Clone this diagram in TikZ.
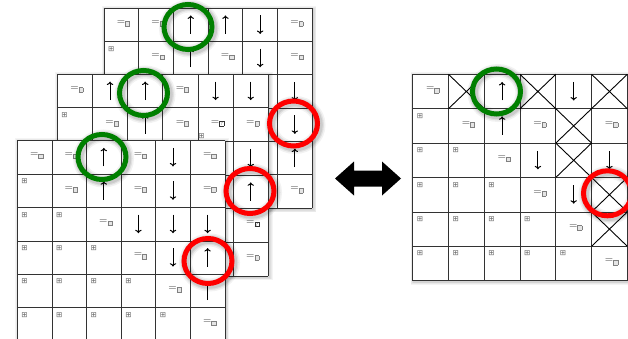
\documentclass[tikz,border=0pt]{standalone}
\usepackage{fontspec}
\newfontfamily\dejavu{DejaVu Sans}
\usetikzlibrary{arrows.meta}

\newcommand{\gbx}{\raisebox{-1.2pt}{\setlength{\fboxsep}{0.5pt}\setlength{\fboxrule}{0.5pt}\fcolorbox{gray}{gray!20}{\rule{0pt}{3.2pt}\hspace{2.8pt}}}}
\newcommand{\qbx}{\raisebox{-1.2pt}{\setlength{\fboxsep}{0.3pt}\setlength{\fboxrule}{0.5pt}\fcolorbox{black!80}{white}{\fontsize{5.5}{5.5}\selectfont ?}}}
\newcommand{\icn}{{\dejavu\fontsize{7.5}{7.5}\selectfont\color{gray!80!black}⊞}}

\newcommand\cce[1]{\node[txt] (#1-t) at ([xshift=2pt,yshift=1.5pt]#1.center) {=\gbx};}
\newcommand\ccq[1]{\node[txt] (#1-t) at ([xshift=2pt,yshift=1.5pt]#1.center) {=\qbx};}
\newcommand\ccu[1]{\draw[arr] ([yshift=-9pt]#1.center) -- ([yshift=9.5pt]#1.center);}
\newcommand\ccd[1]{\draw[arr] ([yshift=9.5pt]#1.center) -- ([yshift=-9pt]#1.center);}
\newcommand\cci[1]{\node[inner sep=0pt] (#1-t) at ([xshift=7.3pt,yshift=-7.3pt]#1.north west) {\icn};}
\newcommand\ccx[1]{\draw[crossline] (#1.north west) -- (#1.south east) (#1.north east) -- (#1.south west);}
\newcommand\ccn[1]{}

% #1 name, #2 x0, #3 y0, #4 cell width, #5 cell height, #6 rows
\newcommand{\mkgrid}[6]{%
  \foreach \k in {1,...,4} {\fill[black,opacity=0.045] ({#2+1-\k*0.8},{#3+1-\k*0.8}) rectangle ({#2+6*#4+1+\k*0.8},{#3+6*#5+1+\k*0.8});}
  \fill[white] (#2,#3) rectangle ({#2+6*#4},{#3+6*#5});
  \foreach \ii in {0,...,6} {
    \draw[gridline] ({#2+\ii*#4},#3) -- ({#2+\ii*#4},{#3+6*#5});
    \draw[gridline] (#2,{#3+\ii*#5}) -- ({#2+6*#4},{#3+\ii*#5});
  }
  \foreach [count=\ri from 0] \row in {#6} {
    \foreach [count=\ci from 0] \cd in \row {
      \node[inner sep=0pt,outer sep=0pt,minimum width=#4pt,minimum height=#5pt] (#1-\ri-\ci) at ({#2+(\ci+0.5)*#4},{#3+(\ri+0.5)*#5}) {};
      \csname cc\cd\endcsname{#1-\ri-\ci}
    }
  }
}

\newcommand\ringat[3]{%
  \foreach \w/\o in {13/0.05,10/0.07,7.5/0.09} {\draw[line width=\w pt, black, opacity=\o] (#1+1.5,#2+1.5) ellipse [x radius=24pt, y radius=22.5pt];}
  \draw[ring,#3] (#1,#2) ellipse [x radius=24pt,y radius=22.5pt];
}

\begin{document}
\begin{tikzpicture}[x=1pt,y=-1pt,
  gridline/.style={line width=0.8pt,draw=black!80},
  crossline/.style={line width=0.9pt,draw=black},
  arr/.style={line width=1pt,-{Computer Modern Rightarrow[length=3.4pt,width=6.4pt]}},
  txt/.style={inner sep=0pt,text=black!85,font=\fontsize{11}{11}\selectfont},
  ring/.style={line width=5pt},
]
\useasboundingbox (0,0) rectangle (628,339);
\fill[white] (0,0) rectangle (628,339);

\mkgrid{B}{104}{8.3}{34.7}{33.3}{{e,e,u,u,d,e},{i,e,u,e,d,e},{n,n,n,n,e,d},{n,n,n,n,n,d},{n,n,n,n,n,u},{n,n,n,n,n,e}}
\mkgrid{M}{57.3}{74.3}{35.17}{33.6}{{e,u,u,e,d,d},{i,e,u,e,q,e},{n,n,n,n,n,d},{n,n,n,n,n,u},{n,n,n,n,n,q},{n,n,n,n,n,e}}
\node[inner sep=0pt] (Mx) at (201.5,136.5) {\icn};
\mkgrid{F}{17.3}{140.7}{34.6}{33.4}{{e,e,u,e,d,e},{i,e,u,e,d,e},{i,i,e,d,d,d},{i,i,i,e,d,u},{i,i,i,i,e,u},{i,i,i,i,i,e}}
\mkgrid{R}{412.7}{74.3}{35.77}{34.4}{{e,x,u,x,d,x},{i,e,u,e,x,e},{i,i,e,d,x,d},{i,i,i,e,d,x},{i,i,i,i,e,x},{i,i,i,i,i,e}}

\ringat{188}{27}{green!50!black}
\ringat{143.5}{93}{green!50!black}
\ringat{102}{157}{green!50!black}
\ringat{496.5}{91.5}{green!50!black}
\ringat{293.5}{123.5}{red}
\ringat{250}{191}{red}
\ringat{208}{261}{red}
\ringat{607.5}{193.3}{red}

\fill[black] (335,178.5) -- (354,161.5) -- (354,170.5) -- (382,170.5) -- (382,161.5) -- (401,178.5) -- (382,195.5) -- (382,186.5) -- (354,186.5) -- (354,195.5) -- cycle;
\end{tikzpicture}
\end{document}
